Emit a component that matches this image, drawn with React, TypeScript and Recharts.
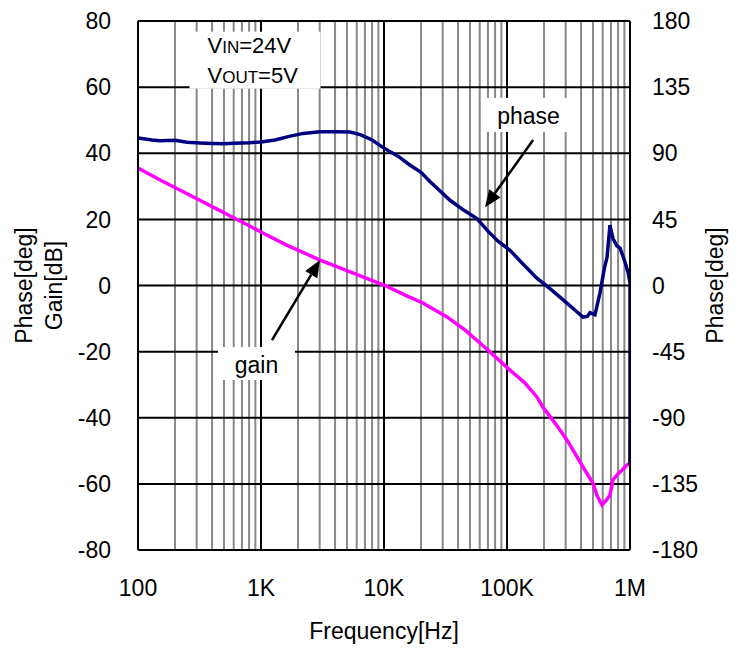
import { LineChart, Line, XAxis, YAxis, ReferenceLine, ReferenceDot } from 'recharts';

// gain curve (dB, left axis)
const gainFreq = [
    100, 150, 265, 439, 700, 1035, 1600, 3020, 5000, 10200, 15000, 20700, 32500, 45000,
    60300, 80000, 105700, 140000, 175000, 196000, 250000, 307000, 360000, 415000, 500000,
    540000, 592000, 640000, 687000, 727000, 800000, 946000, 1000000, 1000000,
];
const gainDb = [
    35.5, 32, 27.3, 23.1, 19.2, 15.9, 12.3, 7.7, 4.5, 0, -3, -5.3, -9.5, -13.3,
    -17.4, -21.5, -25.6, -29.5, -33.7, -36.8, -42, -46.7, -51, -54.9, -59.8,
    -63.5, -66.4, -65, -63.4, -58.8, -57, -54.3, -53.7, -46,
];

// phase curve (deg, right axis)
const phaseFreq = [
    100, 130, 150, 200, 250, 320, 400, 500, 600, 800, 1000, 1300, 1700, 2200, 3000, 4000,
    5300, 6500, 8000, 10200, 13000, 16200, 20000, 23500, 28000, 34400, 45000, 57000, 70000,
    85000, 105700, 130000, 175000, 230000, 307000, 360000, 415000, 450000, 473000, 519000,
    570000, 620000, 650000, 687000, 727000, 780000, 830000, 910000, 964000, 1000000, 1000000,
];
const phaseDeg = [
    100.4, 99, 98.5, 98.8, 97.5, 97, 96.7, 96.4, 96.8, 97.2, 97.7, 99, 101.5, 103.5, 104.6, 104.6,
    104.5, 102.5, 99, 93, 88, 82, 77, 71, 65, 58, 51, 45.5, 37,
    30, 24, 16, 5, -3, -12, -17, -21.5, -21, -18.5, -20,
    -5, 12, 19, 41, 32, 27, 25.5, 16, 9, 2, -122,
];

const xTicks = [100, 1000, 10000, 100000, 1000000];
const xTickLabels: Record<number, string> = { 100: '100', 1000: '1K', 10000: '10K', 100000: '100K', 1000000: '1M' };
const gainTicks = [-80, -60, -40, -20, 0, 20, 40, 60, 80];
const phaseTicks = [-180, -135, -90, -45, 0, 45, 90, 135, 180];
const minorSteps = [2, 3, 4, 5, 6, 7, 8, 9];

const gainData = gainFreq.map((f, i) => ({ f, gain: gainDb[i] }));
const phaseData = phaseFreq.map((f, i) => ({ f, phase: phaseDeg[i] }));
const minorFreqs = xTicks.slice(0, -1).flatMap((d) => minorSteps.map((k) => d * k));

const FONT = '"Liberation Sans", Arial, sans-serif';
const FS = 23;

const LeftLabel = ({ viewBox }: any) => {
    const cy = viewBox.y + viewBox.height / 2;
    return (
        <g fontFamily={FONT} fontSize={FS} fill="#000">
            <text x={32} y={cy} transform={`rotate(-90 32 ${cy})`} textAnchor="middle">Phase[deg]</text>
            <text x={62} y={cy} transform={`rotate(-90 62 ${cy})`} textAnchor="middle">Gain[dB]</text>
        </g>
    );
};

const RightLabel = ({ viewBox }: any) => {
    const cy = viewBox.y + viewBox.height / 2;
    return (
        <text x={723} y={cy} transform={`rotate(-90 723 ${cy})`} textAnchor="middle"
            fontFamily={FONT} fontSize={FS} fill="#000">Phase[deg]</text>
    );
};

const BottomLabel = () => (
    <text x={384} y={639} textAnchor="middle" fontFamily={FONT} fontSize={FS} fill="#000">Frequency[Hz]</text>
);

const Arrow = (props: any) => {
    const { x1, y1, x2, y2 } = props;
    const a = Math.atan2(y2 - y1, x2 - x1);
    const len = 17, hw = 7;
    const bx = x2 - len * Math.cos(a), by = y2 - len * Math.sin(a);
    const nx = -Math.sin(a) * hw, ny = Math.cos(a) * hw;
    return (
        <g>
            <line x1={x1} y1={y1} x2={bx} y2={by} stroke="#000" strokeWidth={2.5} />
            <polygon points={`${x2},${y2} ${bx + nx},${by + ny} ${bx - nx},${by - ny}`} fill="#000" />
        </g>
    );
};

const CondBox = ({ cx, cy }: any) => (
    <g fontFamily={FONT} fill="#000">
        <rect x={cx - 66} y={cy - 29} width={131} height={57} fill="#fff" />
        <text x={cx - 48} y={cy - 8} fontSize={22}>
            V<tspan fontSize={17}>IN</tspan>=24V
        </text>
        <text x={cx - 48} y={cy + 22} fontSize={22}>
            V<tspan fontSize={17}>OUT</tspan>=5V
        </text>
    </g>
);

const TagBox = (text: string, w: number, h: number) => ({ cx, cy }: any) => (
    <g>
        <rect x={cx - w / 2} y={cy - h / 2} width={w} height={h} fill="#fff" />
        <text x={cx} y={cy + 9} textAnchor="middle" fontFamily={FONT} fontSize={FS} fill="#000">{text}</text>
    </g>
);

export default function App() {
    return (
        <div style={{ position: 'absolute', left: 0, top: 0, width: 743, height: 650, background: '#fff' }}>
            <LineChart width={743} height={650} margin={{ top: 21, right: 0, bottom: 0, left: 0 }} style={{ fontFamily: FONT }}>
                <XAxis
                    dataKey="f"
                    type="number"
                    scale="log"
                    domain={[100, 1000000]}
                    allowDataOverflow
                    ticks={xTicks}
                    tickFormatter={(v: number) => xTickLabels[v] ?? ''}
                    tickLine={false}
                    tickSize={0}
                    tickMargin={30}
                    height={100}
                    axisLine={{ stroke: '#000', strokeWidth: 2 }}
                    tick={{ fill: '#000', fontSize: FS }}
                    label={BottomLabel}
                />
                <YAxis
                    yAxisId="left"
                    type="number"
                    domain={[-80, 80]}
                    ticks={gainTicks}
                    tickLine={false}
                    tickSize={0}
                    tickMargin={27}
                    width={138}
                    axisLine={{ stroke: '#000', strokeWidth: 2 }}
                    tick={{ fill: '#000', fontSize: FS }}
                    label={LeftLabel}
                />
                <YAxis
                    yAxisId="right"
                    orientation="right"
                    type="number"
                    domain={[-180, 180]}
                    ticks={phaseTicks}
                    tickLine={false}
                    tickSize={0}
                    tickMargin={22}
                    width={113}
                    axisLine={{ stroke: '#000', strokeWidth: 2 }}
                    tick={{ fill: '#000', fontSize: FS }}
                    label={RightLabel}
                />

                {minorFreqs.map((f) => (
                    <ReferenceLine key={`m${f}`} x={f} yAxisId="left" stroke="#888" strokeWidth={2} />
                ))}
                {xTicks.map((f) => (
                    <ReferenceLine key={`d${f}`} x={f} yAxisId="left" stroke="#000" strokeWidth={2} />
                ))}
                {gainTicks.map((v) => (
                    <ReferenceLine key={`h${v}`} y={v} yAxisId="left" stroke="#000" strokeWidth={2} />
                ))}

                <ReferenceDot x={902} y={68} yAxisId="left" r={1} shape={CondBox} />
                <ReferenceDot x={149600} y={51.6} yAxisId="left" r={1} shape={TagBox('phase', 83, 34)} />
                <ReferenceDot x={919} y={-23.6} yAxisId="left" r={1} shape={TagBox('gain', 77, 33)} />

                <Line data={gainData} dataKey="gain" yAxisId="left" type="linear" stroke="#ff00ff"
                    strokeWidth={3.5} dot={false} isAnimationActive={false} />
                <Line data={phaseData} dataKey="phase" yAxisId="right" type="linear" stroke="#000080"
                    strokeWidth={3.5} dot={false} isAnimationActive={false} />

                <ReferenceLine yAxisId="left" ifOverflow="visible"
                    segment={[{ x: 163000, y: 44 }, { x: 66200, y: 23.7 }]} shape={Arrow} />
                <ReferenceLine yAxisId="left" ifOverflow="visible"
                    segment={[{ x: 1228, y: -16.5 }, { x: 3018, y: 7.7 }]} shape={Arrow} />
            </LineChart>
        </div>
    );
}
